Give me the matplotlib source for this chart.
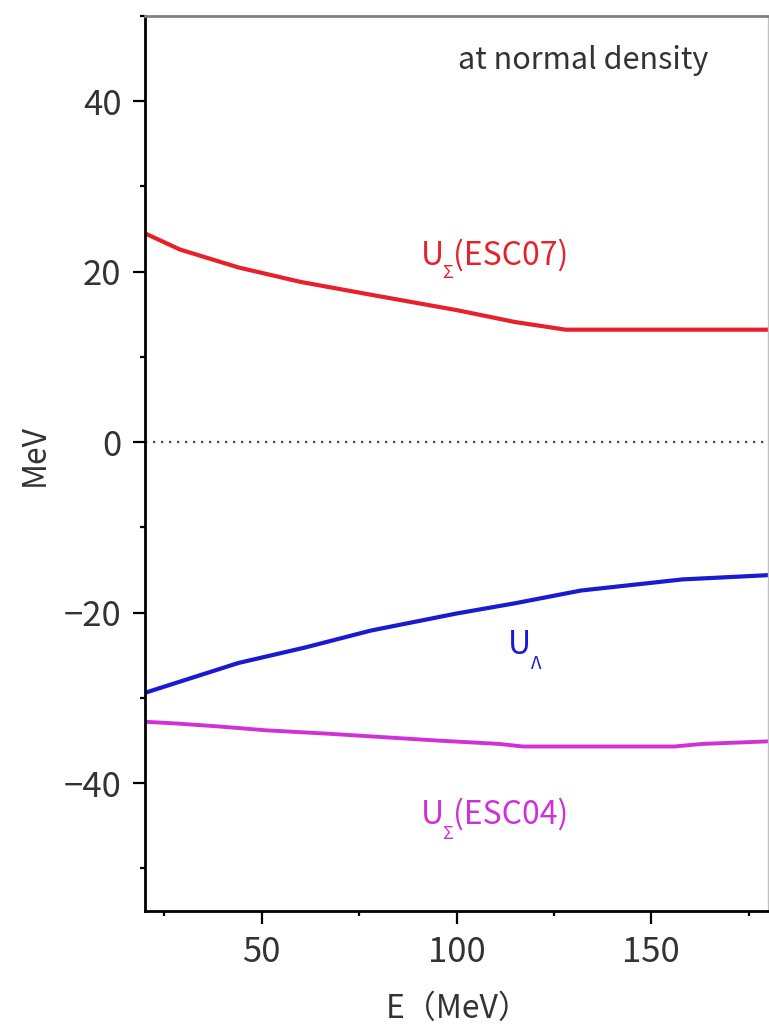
import matplotlib
matplotlib.use('Agg')
import matplotlib.pyplot as plt
from matplotlib.ticker import MultipleLocator

plt.rcParams['font.family'] = ['Noto Sans CJK JP', 'DejaVu Sans']

# single-particle potentials at normal density
e_sig07 = [20, 29, 44, 60, 78, 100, 115, 128, 180]
u_sig07 = [24.5, 22.6, 20.5, 18.8, 17.3, 15.5, 14.1, 13.2, 13.2]

e_lam = [20, 44, 61, 78, 100, 115, 132, 158, 180]
u_lam = [-29.4, -25.9, -24.1, -22.1, -20.1, -18.9, -17.4, -16.1, -15.6]

e_sig04 = [20, 28, 39, 51, 67, 81, 95, 111, 117, 156, 163, 180]
u_sig04 = [-32.8, -33.0, -33.35, -33.8, -34.2, -34.6, -35.0, -35.4, -35.7, -35.7, -35.4, -35.1]

txt = '#333333'
red = '#e8202a'
blue = '#1a1ad0'
mag = '#d030d8'

fig = plt.figure(figsize=(7.69, 10.27), dpi=100)
ax = fig.add_axes([145/769, 116/1027, 623/769, 895/1027])


def potlabel(x, y, sub, rest, color, sub_dx, sub_dy):
    # "U" with a lowered subscript and an optional model name after it
    ax.text(x, y, 'U', color=color, fontsize=23)
    ax.annotate(sub, (x, y), xytext=(sub_dx, sub_dy), textcoords='offset pixels',
                color=color, fontsize=13)
    if rest:
        ax.annotate(rest, (x, y), xytext=(32, 0), textcoords='offset pixels',
                    color=color, fontsize=23)


ax.axhline(0, color='#444444', lw=1.6, ls=(0, (1, 2.6)))
ax.plot(e_sig07, u_sig07, color=red, lw=3.0)
ax.plot(e_lam, u_lam, color=blue, lw=3.0)
ax.plot(e_sig04, u_sig04, color=mag, lw=2.8)

potlabel(90.8, 20.8, 'Σ', '(ESC07)', red, 21, -13)
potlabel(113.1, -24.8, 'Λ', '', blue, 23, -15)
potlabel(90.8, -44.8, 'Σ', '(ESC04)', mag, 21, -15)
ax.text(100.3, 43.8, 'at normal density', color=txt, fontsize=22)

ax.set_xlim(20, 180)
ax.set_ylim(-55, 50)
ax.xaxis.set_major_locator(MultipleLocator(50))
ax.xaxis.set_minor_locator(MultipleLocator(25))
ax.yaxis.set_major_locator(MultipleLocator(20))
ax.yaxis.set_minor_locator(MultipleLocator(10))

ax.tick_params(which='major', direction='out', length=9, width=1.6, colors='black',
               labelcolor=txt, labelsize=25, pad=8)
ax.tick_params(which='minor', direction='out', length=3.5, width=1.6, colors='black')

for s in ['left', 'bottom']:
    ax.spines[s].set_linewidth(2.0)
    ax.spines[s].set_color('black')
ax.spines['top'].set_linewidth(2.0)
ax.spines['top'].set_color('#808080')
ax.spines['right'].set_linewidth(1.0)
ax.spines['right'].set_color('#c0c0c0')

ax.set_xlabel('E（MeV）', fontsize=23, color=txt)
ax.set_ylabel('MeV', fontsize=23, color=txt)
ax.xaxis.set_label_coords(0.502, -0.092)
ax.yaxis.set_label_coords(-0.152, 0.51)

fig.savefig('out.png', dpi=100)
